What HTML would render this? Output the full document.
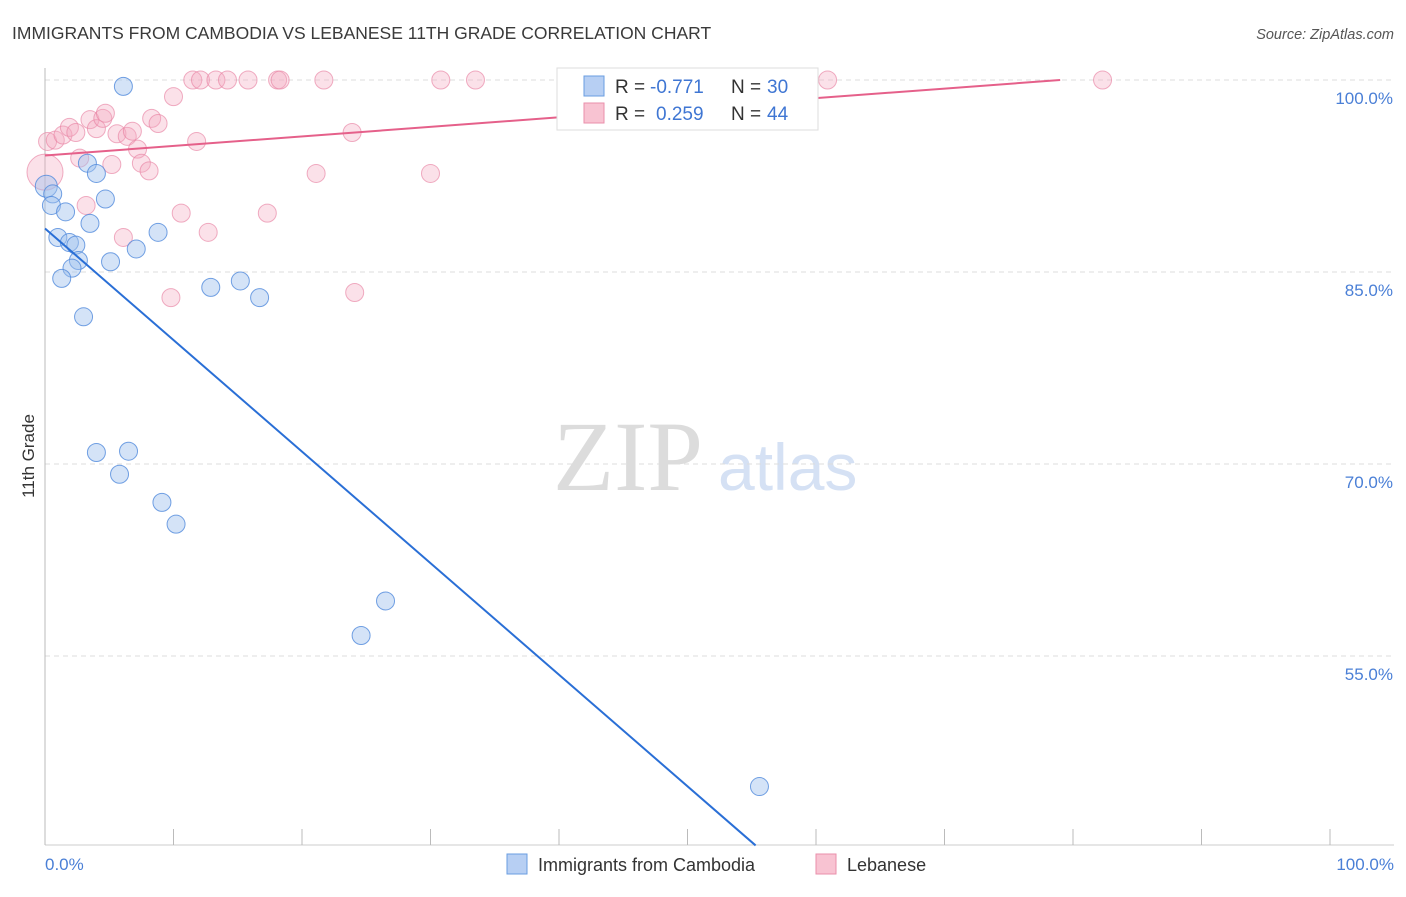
<!DOCTYPE html>
<html><head><meta charset="utf-8"><style>
body{margin:0;background:#fff;font-family:"Liberation Sans",sans-serif;}
svg text{font-family:"Liberation Sans",sans-serif;}
</style></head><body>
<svg width="1406" height="892" viewBox="0 0 1406 892">
<text x="12" y="39" font-size="17.5" fill="#3a3a3a">IMMIGRANTS FROM CAMBODIA VS LEBANESE 11TH GRADE CORRELATION CHART</text>
<text x="1394" y="39" font-size="14.5" fill="#555" font-style="italic" text-anchor="end">Source: ZipAtlas.com</text>
<text x="553" y="490" font-size="100" fill="#dcdcdc" style="font-family:'Liberation Serif',serif">ZIP</text>
<text x="718" y="490" font-size="66" fill="#d5e1f4">atlas</text>
<g id="grid"></g>
<line x1="45" y1="68" x2="45" y2="845" stroke="#bbb"/>
<line x1="45" y1="845" x2="1394" y2="845" stroke="#ccc"/>
<g id="ticks"></g>
<g id="pts"></g>
<g id="lines"></g>
<text transform="translate(34,456) rotate(-90)" font-size="17" fill="#333" text-anchor="middle">11th Grade</text>
<text x="45" y="870" font-size="17" fill="#4a7fd6">0.0%</text>
<text x="1394" y="870" font-size="17" fill="#4a7fd6" text-anchor="end">100.0%</text>
<g>
<rect x="557" y="68" width="261" height="62" fill="#fff" stroke="#ddd"/>
<rect x="584" y="76" width="20" height="20" fill="#b7cff3" stroke="#6a9de0"/>
<text x="615" y="93" font-size="19" fill="#333">R =</text>
<text x="650" y="93" font-size="19" fill="#3f76d3">-0.771</text>
<text x="731" y="93" font-size="19" fill="#333">N =</text>
<text x="767" y="93" font-size="19" fill="#3f76d3">30</text>
<rect x="584" y="103" width="20" height="20" fill="#f8c3d2" stroke="#ea8fab"/>
<text x="615" y="120" font-size="19" fill="#333">R =</text>
<text x="656" y="120" font-size="19" fill="#3f76d3">0.259</text>
<text x="731" y="120" font-size="19" fill="#333">N =</text>
<text x="767" y="120" font-size="19" fill="#3f76d3">44</text>
</g>
<g><rect x="507" y="854" width="20" height="20" fill="#b7cff3" stroke="#6a9de0"/><text x="538" y="871" font-size="18" fill="#333">Immigrants from Cambodia</text></g>
<g><rect x="816" y="854" width="20" height="20" fill="#f8c3d2" stroke="#ea8fab"/><text x="847" y="871" font-size="18" fill="#333">Lebanese</text></g>
</svg>
<script>
const yTicks=[100,85,70,55];
const yTickLabels=["100.0%","85.0%","70.0%","55.0%"];
const xTicks=[0,10,20,30,40,50,60,70,80,90,100];
const blueX=[6.1,3.3,4.0,0.1,0.6,0.5,1.6,4.7,3.5,8.8,1.0,1.9,2.4,2.6,2.1,1.3,5.1,7.1,12.9,15.2,16.7,3.0,4.0,6.5,5.8,9.1,10.2,26.5,24.6,55.6];
const blueY=[99.5,93.5,92.7,91.7,91.1,90.2,89.7,90.7,88.8,88.1,87.7,87.3,87.1,85.9,85.3,84.5,85.8,86.8,83.8,84.3,83.0,81.5,70.9,71.0,69.2,67.0,65.3,59.3,56.6,44.8];
const pinkX=[11.5,12.1,13.3,14.2,15.8,18.1,18.3,21.7,30.8,33.5,60.9,82.3,0.0,0.2,0.8,1.4,1.9,2.4,3.5,4.0,4.5,4.7,5.6,6.4,6.8,7.2,7.5,8.1,8.3,8.8,10.0,11.8,2.7,5.2,3.2,6.1,10.6,12.7,9.8,17.3,21.1,23.9,24.1,30.0];
const pinkY=[100,100,100,100,100,100,100,100,100,100,100,100,92.8,95.2,95.3,95.7,96.3,95.9,96.9,96.2,97.0,97.4,95.8,95.6,96.0,94.6,93.5,92.9,97.0,96.6,98.7,95.2,93.9,93.4,90.2,87.7,89.6,88.1,83.0,89.6,92.7,95.9,83.4,92.7];
const blueLine=[[0,88.4],[55.3,40.2]];
const pinkLine=[[0,94.1],[79,100]];
const NS="http://www.w3.org/2000/svg";
const sx=v=>45+v*12.85, sy=v=>80+(100-v)*12.8;
function mk(t,a,p){const e=document.createElementNS(NS,t);for(const k in a)e.setAttribute(k,a[k]);p.appendChild(e);return e;}
const grid=document.getElementById('grid');
yTicks.forEach((t,i)=>{
 const l=mk('line',{x1:45,x2:1394,y1:sy(t),y2:sy(t),stroke:'#ddd','stroke-dasharray':'5,4'},grid);
 
 
 const tx=mk('text',{x:1393,y:sy(t)+24,'font-size':17,fill:'#4a7fd6','text-anchor':'end'},grid);
 tx.textContent=yTickLabels[i];
 
 
});
const tk=document.getElementById('ticks');
xTicks.forEach(t=>{
 const l=mk('line',{x1:sx(t),x2:sx(t),y1:829,y2:845,stroke:'#bbb'},tk);
 
 
});
const pts=document.getElementById('pts');
pinkX.forEach((x,i)=>{
 const c=mk('circle',{cx:sx(x),cy:sy(pinkY[i]),r:i==12?18:9,fill:'rgba(244,170,192,0.35)',stroke:'rgba(232,130,163,0.65)','stroke-width':1},pts);
 
 
});
blueX.forEach((x,i)=>{
 const c=mk('circle',{cx:sx(x),cy:sy(blueY[i]),r:i==3?11:9,fill:'rgba(160,192,238,0.45)',stroke:'rgba(80,138,220,0.8)','stroke-width':1},pts);
 
 
});
const ln=document.getElementById('lines');
const b=mk('line',{x1:sx(blueLine[0][0]),y1:sy(blueLine[0][1]),x2:sx(blueLine[1][0]),y2:sy(blueLine[1][1]),stroke:'#2a6fd6','stroke-width':2},ln);


const p=mk('line',{x1:sx(pinkLine[0][0]),y1:sy(pinkLine[0][1]),x2:sx(pinkLine[1][0]),y2:sy(pinkLine[1][1]),stroke:'#e5608a','stroke-width':2},ln);


</script>
</body></html>
